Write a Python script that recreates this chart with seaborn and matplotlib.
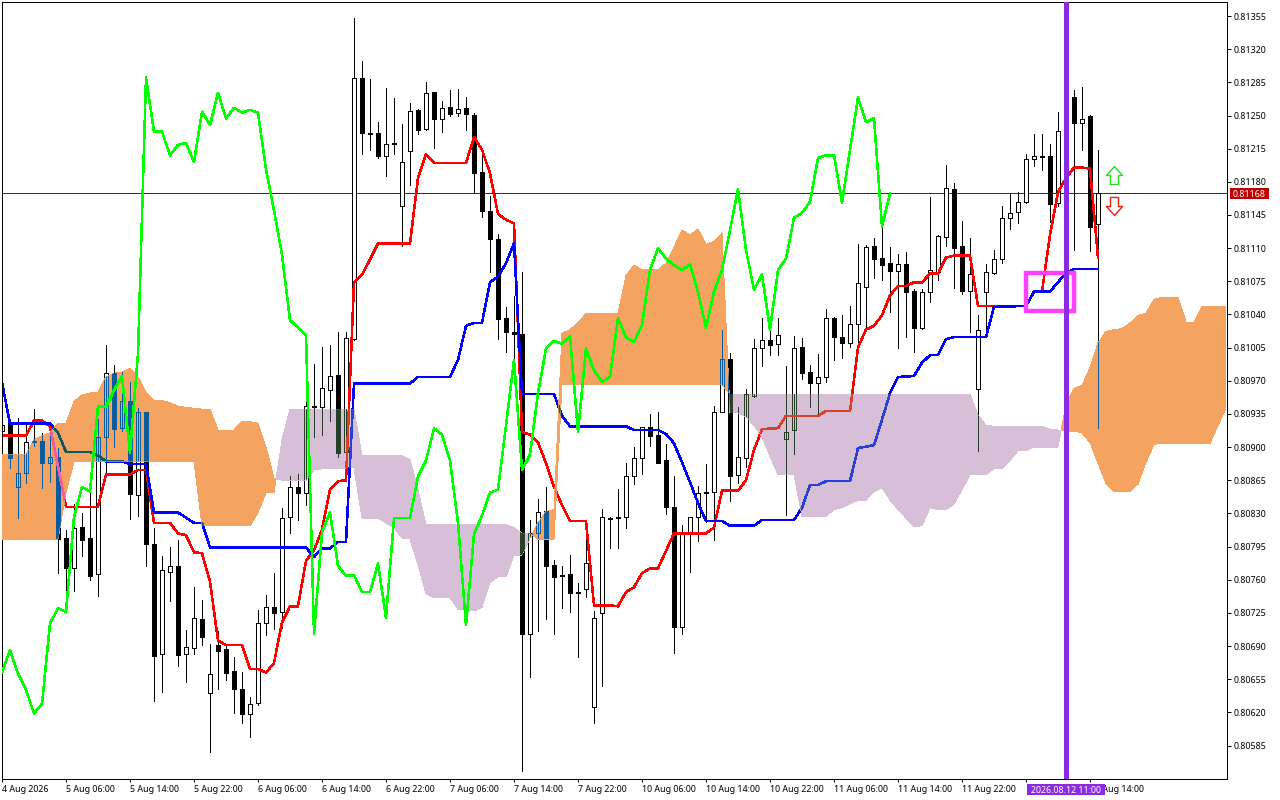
# Ichimoku candlestick chart, NZD style terminal look
import numpy as np
import matplotlib
matplotlib.use("Agg")
import matplotlib.pyplot as plt
import seaborn as sns
from matplotlib.patches import PathPatch, Rectangle
from matplotlib.path import Path

# prices are kept in points (1e-5)
opens = [80917,80925,80858,80873,80906,80906,80883,80890,80804,80772,
         80816,80804,80766,80911,80978,80920,80949,80849,80937,80798,
         80682,80768,80775,80682,80688,80719,80640,80691,80687,80664,
         80645,80618,80630,80714,80731,80726,80826,80858,80852,80943,
         80942,80960,80976,80895,81014,81290,81230,81232,81207,81221,
         81154,81213,81256,81236,81275,81246,81259,81253,81258,81251,
         81190,81149,81120,81036,81022,81019,80703,80809,80833,80776,
         80765,80766,80747,80750,80626,80725,80825,80826,80826,80869,
         80888,80921,80913,80886,80837,80710,80808,80826,80853,80853,
         80937,80993,80871,80889,80954,81005,81013,81009,80909,80918,
         81006,80979,80968,80974,81036,81016,81010,81030,81069,81112,
         81100,81094,81086,81093,81065,81026,81064,81085,81122,81172,
         81112,81065,80961,81064,81084,81099,81142,81148,81159,81204,
         81207,81207,81158,81234,81270,81242,81249,81135]
closes = [80923,80889,80873,80905,80905,80883,80890,80803,80772,80815,
          80802,80764,80911,80978,80919,80949,80851,80937,80798,80680,
          80770,80775,80681,80689,80720,80700,80661,80685,80662,80645,
          80618,80629,80714,80731,80725,80825,80858,80852,80943,80942,
          80962,80975,80894,81015,81290,81232,81232,81207,81220,81220,
          81201,81255,81235,81274,81246,81258,81252,81257,81252,81189,
          81149,81120,81035,81022,81019,80703,80809,80832,80774,80763,
          80764,80746,80746,80778,80720,80826,80824,80825,80870,80889,
          80921,80912,80883,80837,80710,80808,80826,80852,80852,80937,
          80993,80869,80890,80956,81005,81013,81008,81018,80916,81005,
          80978,80968,80974,81036,81016,81010,81030,81073,81111,81099,
          81092,81086,81093,81064,81026,81064,81087,81123,81174,81110,
          81065,81083,81024,81085,81099,81142,81147,81159,81204,81207,
          81206,81157,81234,81260,81242,81246,81132,81168]
highs = [80927,80927,80931,80925,80940,80915,80916,80899,80813,80840,
         80830,80868,80930,81008,80987,80979,80969,80941,80937,80815,
         80785,80795,80802,80707,80752,80739,80692,80706,80691,80678,
         80663,80636,80728,80744,80767,80836,80870,80872,80965,80988,
         81006,81008,81021,81022,81353,81307,81289,81243,81279,81268,
         81241,81263,81257,81285,81275,81265,81277,81278,81270,81253,
         81209,81165,81125,81048,81060,81085,80823,80845,80858,80781,
         80775,80786,80757,80810,80727,80835,80826,80856,80883,80900,
         80921,80935,80937,80903,80869,80818,80826,80859,80882,80943,
         81024,80999,80942,80961,81014,81036,81032,81036,80986,81017,
         81015,80987,80998,81046,81037,81039,81049,81114,81113,81121,
         81132,81111,81104,81106,81067,81067,81164,81124,81198,81179,
         81139,81121,81039,81093,81108,81155,81168,81169,81209,81231,
         81231,81220,81254,81270,81277,81280,81251,81214]
lows = [80916,80878,80825,80862,80901,80857,80863,80767,80738,80748,
        80785,80760,80743,80873,80900,80917,80824,80827,80775,80632,
        80642,80738,80669,80652,80682,80691,80578,80645,80654,80619,
        80609,80594,80628,80702,80708,80709,80809,80823,80839,80911,
        80913,80928,80890,80891,81013,81209,81214,81205,81186,81209,
        81112,81177,81231,81235,81216,81233,81249,81249,81235,81168,
        81143,81085,81014,81000,80994,80558,80657,80706,80719,80703,
        80730,80726,80678,80742,80609,80648,80794,80794,80815,80861,
        80872,80901,80883,80829,80683,80703,80768,80801,80821,80802,
        80937,80843,80862,80879,80953,80986,80997,80997,80828,80893,
        80972,80942,80934,80969,80992,80994,81006,81003,81024,81079,
        81076,81043,81005,81016,81000,81025,81053,81076,81112,81068,
        81062,81022,80896,81016,81083,81094,81130,81137,81158,81197,
        81193,81138,81154,81200,81108,81214,81107,80920]

# tenkan and kijun, bar number and value at each corner of the line
tenkan_bars = [0,3,4,5,6,8,12,13,16,17,18,19,21,22,23,24,25,26,27,28,30,31,32,33,34,35,36,37,38,39,
               40,41,42,43,44,45,46,47,51,52,53,54,58,59,60,61,62,63,64,65,66,67,68,69,70,71,73,74,76,77,
               78,79,80,81,82,84,88,89,90,92,93,94,95,97,98,102,103,106,107,108,109,110,111,112,113,114,115,
               116,117,118,119,121,122,128,129,130,131,132,133,134,135,136,137]
tenkan = [80912,80912,80928,80928,80922,80837,80837,80871,80871,80876,80876,80820,80820,80809,80807,80789,80788,80758,80696,80691,
          80691,80666,80666,80662,80672,80715,80732,80732,80780,80791,80813,80855,80864,80865,81074,81082,81098,81115,81115,81184,
          81209,81200,81200,81227,81214,81189,81146,81140,81136,80916,80913,80905,80883,80858,80839,80822,80822,80733,80733,80732,
          80747,80752,80767,80772,80772,80809,80809,80815,80854,80854,80865,80897,80919,80920,80933,80933,80938,80938,81005,81024,
          81028,81039,81060,81070,81070,81074,81074,81083,81083,81100,81102,81102,81049,81049,81064,81064,81124,81169,81184,81195,
          81195,81194,81100]
kijun_bars = [0,1,6,7,8,11,12,13,15,16,18,19,22,24,25,26,38,39,40,41,42,43,44,51,52,56,57,58,59,60,
              61,62,63,64,65,69,70,71,78,79,82,83,84,85,86,87,88,90,91,94,95,99,100,101,102,103,106,107,109,110,
              111,112,114,115,116,117,118,119,123,124,128,129,131,133,134,137]
kijun = [80968,80925,80925,80915,80895,80895,80891,80885,80885,80882,80882,80831,80831,80820,80820,80794,80794,80784,80793,80793,
         80800,80800,80967,80967,80974,80974,80992,81028,81031,81031,81074,81080,81094,81115,80956,80956,80933,80922,80922,80918,
         80918,80914,80904,80884,80863,80841,80822,80822,80817,80817,80823,80823,80836,80860,80860,80864,80864,80899,80902,80929,
         80957,80974,80975,80989,80997,80997,81014,81016,81016,81048,81049,81064,81064,81084,81088,81088]

# chikou, one value per bar up to bar 111
chikou = [80662,80686,80661,80644,80619,80629,80714,80730,80726,80826,80858,80853,80943,80943,80960,80975,80894,80999,81290,81233,
          81233,81208,81219,81221,81201,81254,81240,81274,81247,81258,81253,81256,81253,81193,81150,81103,81034,81026,81018,80703,
          80810,80831,80775,80764,80765,80747,80747,80777,80720,80825,80825,80825,80869,80886,80920,80913,80886,80820,80712,80808,
          80828,80852,80855,80923,80992,80876,80892,80957,81004,81012,81009,81017,80916,81004,80981,80969,80974,81036,81016,81011,
          81029,81087,81110,81099,81092,81087,81093,81064,81026,81064,81087,81129,81172,81108,81066,81082,81024,81087,81099,81142,
          81147,81159,81205,81208,81208,81158,81214,81269,81243,81247,81133,81168]

# senkou spans, one value per bar up to the right edge
span_a = [80892,80892,80892,80892,80908,80912,80915,80925,80925,80948,
          80955,80957,80958,80974,80978,80979,80983,80974,80958,80949,
          80949,80947,80943,80942,80941,80940,80940,80918,80918,80918,
          80927,80927,80925,80900,80867,80865,80865,80865,80865,80876,
          80877,80877,80877,80878,80878,80825,80825,80825,80820,80815,
          80804,80803,80776,80745,80741,80741,80741,80729,80728,80727,
          80731,80757,80763,80763,80786,80786,80804,80820,80832,80834,
          81020,81024,81031,81041,81041,81041,81041,81041,81081,81092,
          81087,81087,81087,81094,81111,81129,81124,81130,81114,81117,
          81126,80936,80936,80932,80923,80911,80890,80871,80871,80871,
          80827,80827,80827,80827,80834,80836,80840,80844,80844,80853,
          80857,80844,80834,80825,80816,80817,80836,80834,80834,80840,
          80855,80871,80871,80871,80877,80877,80886,80896,80896,80900,
          80900,80900,80900,80945,80962,80965,80984,81010,81022,81024,
          81025,81031,81039,81041,81056,81058,81058,81058,81032,81032,
          81048,81048,81048,81048]
span_b = [80803,80803,80803,80803,80803,80803,80803,80803,80852,80885,
          80885,80885,80885,80885,80885,80885,80885,80885,80885,80885,
          80885,80885,80885,80885,80885,80817,80817,80817,80817,80817,
          80817,80817,80831,80852,80852,80908,80940,80940,80940,80940,
          80940,80940,80940,80940,80940,80891,80891,80891,80891,80891,
          80891,80887,80855,80818,80818,80818,80818,80818,80818,80818,
          80818,80818,80818,80818,80815,80809,80809,80803,80803,80803,
          80966,80966,80966,80966,80966,80966,80966,80966,80966,80966,
          80966,80966,80966,80966,80966,80966,80966,80966,80966,80966,
          80966,80956,80956,80956,80956,80956,80956,80956,80956,80956,
          80956,80956,80956,80956,80956,80956,80956,80956,80956,80956,
          80956,80956,80956,80956,80956,80956,80956,80956,80956,80956,
          80956,80956,80934,80923,80922,80922,80922,80922,80922,80922,
          80922,80919,80918,80917,80917,80915,80905,80883,80862,80853,
          80853,80853,80861,80884,80903,80904,80904,80904,80904,80904,
          80904,80904,80923,80941]

time_bars = [0,8,16,24,32,40,48,56,64,72,80,88,96,104,112,120,128,136]
# the label of bar 128 lies under the cursor tag in the terminal, so it stays blank
time_labels = ["4 Aug 2026","5 Aug 06:00","5 Aug 14:00","5 Aug 22:00","6 Aug 06:00","6 Aug 14:00",
               "6 Aug 22:00","7 Aug 06:00","7 Aug 14:00","7 Aug 22:00","10 Aug 06:00","10 Aug 14:00",
               "10 Aug 22:00","11 Aug 06:00","11 Aug 14:00","11 Aug 22:00","","12 Aug 14:00"]
price_ticks = [80585 + 35 * k for k in range(23)]
last_price = 81168
cursor_bar = 133
cursor_label = "2026.08.12 11:00"
box_bars = (128, 134)
box_prices = (81044, 81084)
arrow_bar = 139
arrow_up_price = 81187
arrow_down_price = 81155

ORANGE = "#F4A460"
THISTLE = "#D8BFD8"
VIOLET = "#8A2BE2"
TAG_RED = "#C00000"
FONT = "Noto Sans"
LINE_W = 1.1


def pts(values):
    return np.array(values) / 1e5


o, c, h, l = pts(opens), pts(closes), pts(highs), pts(lows)
bars = np.arange(len(o))
up = c >= o

sns.set_theme(style="white")
plt.rcParams["font.family"] = [FONT, "DejaVu Sans"]

fig = plt.figure(figsize=(12.8, 8), dpi=100, facecolor="white")
ax = fig.add_axes([2 / 1280, 1 - 779 / 800, 1225 / 1280, 777 / 800])
ax.set_xlim(0, 153.125)
ax.set_ylim(0.805497, 0.813698)


def draw_candles(wick, edge, up_fill, down_fill, z):
    # returns the artists so they can be clipped to the cloud
    arts = [ax.vlines(bars, l, h, color=wick, linewidth=0.72, antialiased=False, zorder=z)]
    tops = np.maximum(o, c)
    bots = np.minimum(o, c)
    for mask, fill in ((up, up_fill), (~up, down_fill)):
        cont = ax.bar(bars[mask], (tops - bots)[mask], bottom=bots[mask], width=0.5,
                      facecolor=fill, edgecolor=edge, linewidth=0.72, antialiased=False, zorder=z)
        arts.extend(cont.patches)
    return arts


def draw_line(x, y, color, z):
    sns.lineplot(x=x, y=y, color=color, linewidth=LINE_W, antialiased=False, estimator=None,
                 sort=False, legend=False, ax=ax, zorder=z)
    return ax.lines[-1]


# price line sits under the candles
ax.axhline(last_price / 1e5, color="#A00000", linewidth=0.72, antialiased=False, zorder=0.5)

draw_candles("black", "black", "white", "black", 1)
draw_line(tenkan_bars, pts(tenkan), "#FF0000", 2)
draw_line(kijun_bars, pts(kijun), "#0000FF", 2.1)

# cloud
cloud_x = np.arange(len(span_a))
a, b = pts(span_a), pts(span_b)
orange = ax.fill_between(cloud_x, a, b, where=a >= b, interpolate=True, color=ORANGE,
                         linewidth=0, antialiased=False, zorder=3)
purple = ax.fill_between(cloud_x, a, b, where=a < b, interpolate=True, color=THISTLE,
                         linewidth=0, antialiased=False, zorder=3)

# the terminal paints the cloud as xor, so whatever is under it comes through in other colours
overlays = [
    (orange, "#0B5B9F", "#F45B9F", "#0B5B60"),
    (purple, "#274027", "#D84027", "#2740D8"),
]
for coll, dark, red_over, blue_over in overlays:
    clip = PathPatch(Path.make_compound_path(*coll.get_paths()), transform=ax.transData)
    layer = draw_candles(dark, dark, "none", dark, 4)
    layer.append(draw_line(tenkan_bars, pts(tenkan), red_over, 4.1))
    layer.append(draw_line(kijun_bars, pts(kijun), blue_over, 4.2))
    for art in layer:
        art.set_clip_path(clip)

draw_line(np.arange(len(chikou)), pts(chikou), "#00FF00", 5)

# box around the last signal
ax.add_patch(Rectangle((box_bars[0], box_prices[0] / 1e5), box_bars[1] - box_bars[0],
                       (box_prices[1] - box_prices[0]) / 1e5, fill=False, edgecolor="#FF40FF",
                       linewidth=3.2, joinstyle="miter", zorder=6))
ax.axvline(cursor_bar, color=VIOLET, linewidth=3.6, antialiased=False, zorder=7)

# arrows
up_arrow = Path([(0, 9), (8, 0), (4, 0), (4, -9), (-4, -9), (-4, 0), (-8, 0), (0, 9)], closed=True)
down_arrow = Path([(0, -9), (8, 0), (4, 0), (4, 9), (-4, 9), (-4, 0), (-8, 0), (0, -9)], closed=True)
ax.plot([arrow_bar], [arrow_up_price / 1e5], marker=up_arrow, markersize=13, markerfacecolor="white",
        markeredgecolor="#22DD22", markeredgewidth=1.0, zorder=8)
ax.plot([arrow_bar], [arrow_down_price / 1e5], marker=down_arrow, markersize=13, markerfacecolor="white",
        markeredgecolor="#EE2211", markeredgewidth=1.0, zorder=8)

# axes
for side in ax.spines.values():
    side.set_color("black")
    side.set_linewidth(0.72)
ax.yaxis.tick_right()
ax.set_yticks(pts(price_ticks))
ax.set_yticklabels([f"{p / 1e5:.5f}" for p in price_ticks])
ax.set_xticks(time_bars)
ax.set_xticklabels(time_labels, ha="left")
ax.tick_params(axis="y", direction="out", length=3, width=0.72, pad=2, labelsize=6.4,
               colors="black", right=True, left=False)
ax.tick_params(axis="x", direction="out", length=2.5, width=0.72, pad=1.5, labelsize=6.4,
               colors="black", bottom=True)


def tag(x0, x1, y0, y1, colour, text):
    fig.add_artist(Rectangle((x0 / 1280, 1 - y1 / 800), (x1 - x0) / 1280, (y1 - y0) / 800,
                             transform=fig.transFigure, facecolor=colour, edgecolor="none", zorder=5))
    fig.text((x0 + x1) / 2 / 1280, 1 - (y0 + y1) / 2 / 800, text, color="white", fontsize=6.4,
             ha="center", va="center_baseline", zorder=6)


tag(1230, 1269, 188, 199, TAG_RED, f"{last_price / 1e5:.5f}")
tag(1027, 1105, 784, 795, VIOLET, cursor_label)

fig.savefig("out.png", dpi=100)
